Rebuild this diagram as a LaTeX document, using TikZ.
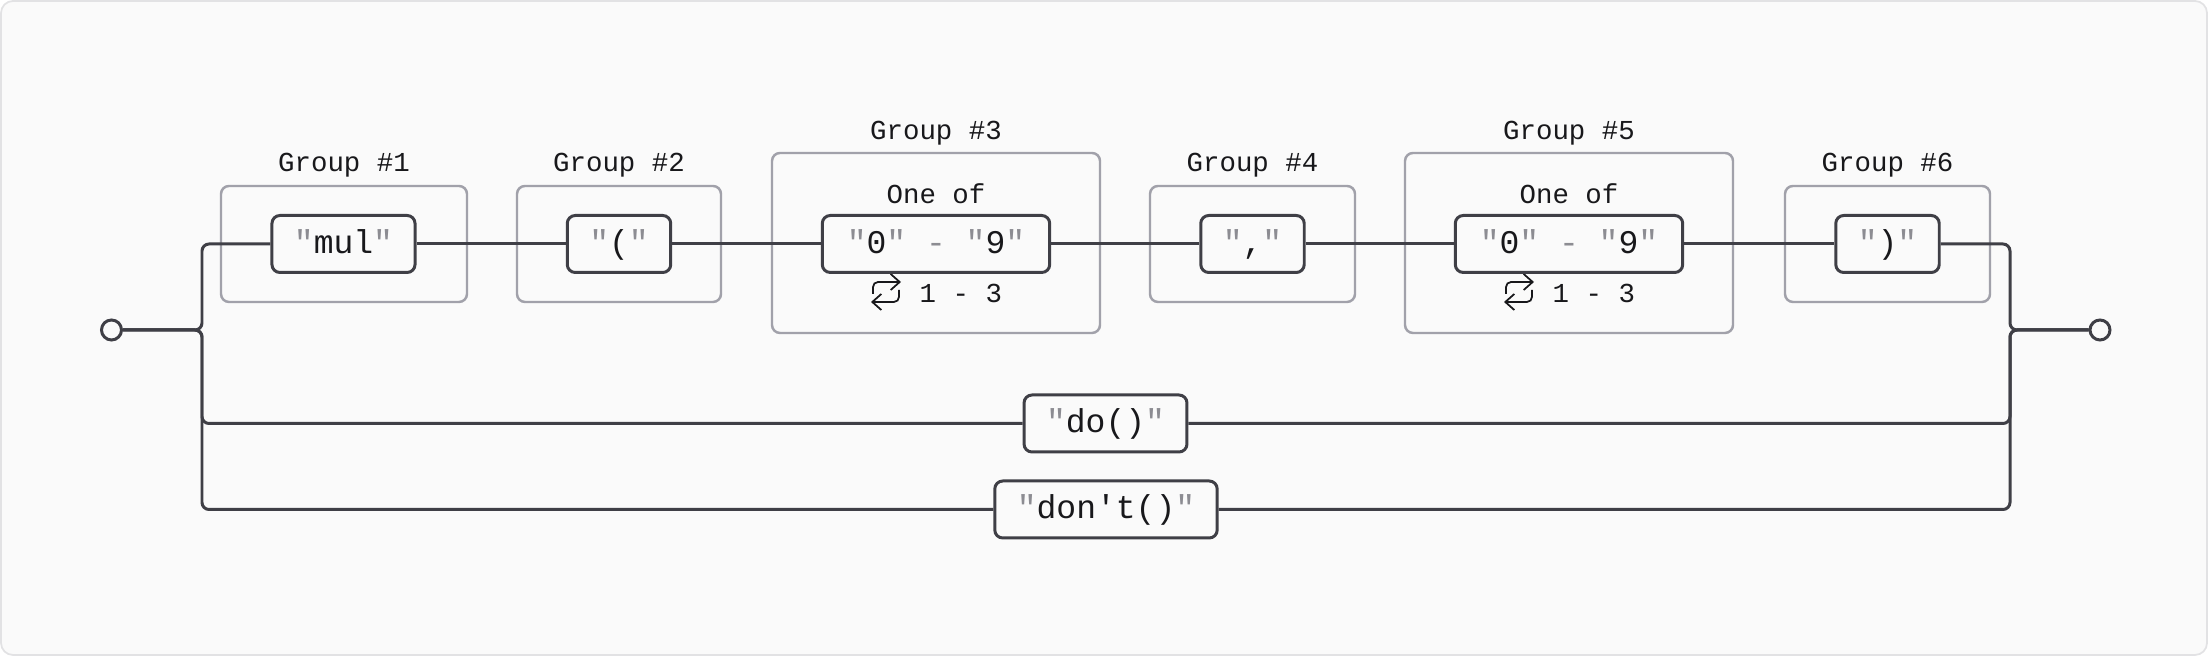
\documentclass[tikz,border=0pt]{standalone}
\usepackage{fontspec}
\setmonofont{Liberation Mono}
\usepackage{tikz}
\usetikzlibrary{arrows.meta}
\definecolor{pagebg}{RGB}{250,250,250}
\definecolor{framegrey}{RGB}{226,226,228}
\definecolor{railgrey}{RGB}{63,63,70}
\definecolor{groupgrey}{RGB}{161,161,170}
\definecolor{quotegrey}{RGB}{140,140,146}
\definecolor{inkblack}{RGB}{24,24,27}
\newcommand{\lit}[1]{\textcolor{quotegrey}{"}#1\textcolor{quotegrey}{"}}
\tikzset{
  frame/.style={draw=framegrey, fill=pagebg, line width=0.5pt, rounded corners=1.2mm},
  term/.style={rectangle, rounded corners=0.8mm, draw=railgrey, fill=pagebg, line width=0.85pt,
    font=\ttfamily\fontsize{9.4}{11}\selectfont, text=inkblack, minimum height=5.7mm,
    inner xsep=2.2mm, inner ysep=0pt, text height=0.72em, text depth=0.18em},
  rangeterm/.style={term, inner xsep=2.45mm},
  groupbox/.style={rectangle, rounded corners=0.8mm, draw=groupgrey, line width=0.7pt},
  grouplbl/.style={font=\ttfamily\fontsize{7.8}{9}\selectfont, text=inkblack, inner sep=0pt},
  endpt/.style={circle, draw=railgrey, fill=pagebg, line width=0.85pt, minimum size=2mm, inner sep=0pt},
  rail/.style={draw=railgrey, line width=0.85pt, rounded corners=0.7mm},
  repicon/.pic={
    \draw[draw=inkblack, line width=0.5pt, rounded corners=0.5mm, -{Straight Barb[length=0.9mm,width=1.6mm]}] (-13,2) |- (15,-10);
    \draw[draw=inkblack, line width=0.5pt, rounded corners=0.5mm, -{Straight Barb[length=0.9mm,width=1.6mm]}] (13,-2) |- (-15,10);
  },
}
\begin{document}
\begin{tikzpicture}[x=0.1mm,y=-0.1mm]
  \useasboundingbox (0,0) rectangle (2208,656);
  \draw[frame] (1,1) rectangle (2207,655);
  % group frames and titles
  \node[groupbox, minimum width=24.6mm, minimum height=11.6mm] (grp1) at (344,244) {};
  \node[groupbox, minimum width=20.4mm, minimum height=11.6mm] (grp2) at (619,244) {};
  \node[groupbox, minimum width=32.8mm, minimum height=18mm] (grp3) at (936,243) {};
  \node[groupbox, minimum width=20.5mm, minimum height=11.6mm] (grp4) at (1252.5,244) {};
  \node[groupbox, minimum width=32.8mm, minimum height=18mm] (grp5) at (1569,243) {};
  \node[groupbox, minimum width=20.5mm, minimum height=11.6mm] (grp6) at (1887.5,244) {};
  \node[grouplbl] (lbl1) at (344,165) {Group \#1};
  \node[grouplbl] (lbl2) at (619,165) {Group \#2};
  \node[grouplbl] (lbl3) at (936,133) {Group \#3};
  \node[grouplbl] (lbl4) at (1252.5,165) {Group \#4};
  \node[grouplbl] (lbl5) at (1569,133) {Group \#5};
  \node[grouplbl] (lbl6) at (1887.5,165) {Group \#6};
  % "one of" + repeat marks
  \foreach \gx/\gn in {936/3,1569/5}{
    \node[grouplbl] (oneof\gn) at (\gx,194) {One of};
    \pic at (\gx-50,292) {repicon};
    \node[grouplbl, anchor=west] (rep\gn) at (\gx-17,293) {1 - 3};
  }
  % terminals
  \node[endpt] (start) at (111.5,330) {};
  \node[endpt] (stop) at (2100,330) {};
  \node[term] (mul) at (343.5,244) {\lit{mul}};
  \node[term] (lpar) at (619,244) {\lit{(}};
  \node[rangeterm] (dig1) at (936,244) {\lit{0} \textcolor{quotegrey}{-} \lit{9}};
  \node[term] (comma) at (1252.5,244) {\lit{,}};
  \node[rangeterm] (dig2) at (1569,244) {\lit{0} \textcolor{quotegrey}{-} \lit{9}};
  \node[term] (rpar) at (1887.5,244) {\lit{)}};
  \node[term] (do) at (1105.5,423.5) {\lit{do()}};
  \node[term] (dont) at (1106,509.5) {\lit{don't()}};
  \coordinate (lsplit) at (202,330);
  \coordinate (rsplit) at (2010,330);
  % rails
  \draw[rail] (start.east) -| (lsplit |- mul.west) -- (mul.west);
  \draw[rail] (start.east) -| (lsplit |- do.west) -- (do.west);
  \draw[rail] (start.east) -| (lsplit |- dont.west) -- (dont.west);
  \draw[rail] (mul) -- (lpar);
  \draw[rail] (lpar) -- (dig1);
  \draw[rail] (dig1) -- (comma);
  \draw[rail] (comma) -- (dig2);
  \draw[rail] (dig2) -- (rpar);
  \draw[rail] (rpar.east) -| (rsplit) -- (stop.west);
  \draw[rail] (do.east) -| (rsplit) -- (stop.west);
  \draw[rail] (dont.east) -| (rsplit) -- (stop.west);
\end{tikzpicture}
\end{document}
